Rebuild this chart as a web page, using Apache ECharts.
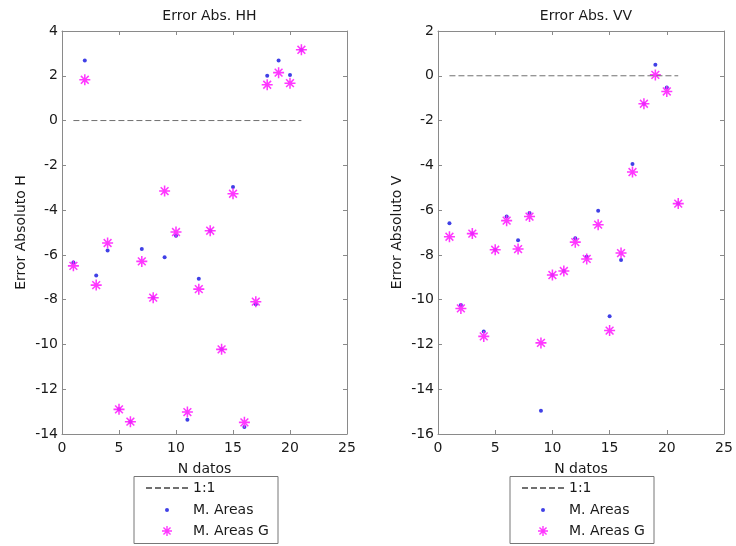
<!DOCTYPE html>
<html>
<head>
<meta charset="utf-8">
<script src="https://cdn.jsdelivr.net/npm/echarts@6/dist/echarts.min.js"></script>
<style>html,body{margin:0;padding:0;background:#fff;}#c{width:736px;height:546px;}</style>
</head>
<body>
<div id="c"></div>
<script>
// ---- data ----
const nDatos = [1,2,3,4,5,6,7,8,9,10,11,12,13,14,15,16,17,18,19,20,21];
const hhAreas  = [-6.34, 2.68, -6.92, -5.80, -12.90, -13.45, -5.74, -7.91, -6.10, -5.15, -13.36, -7.07, -4.92, -10.22, -2.97, -13.69, -8.21, 2.00, 2.68, 2.04, 3.16];
const hhAreasG = [-6.49, 1.82, -7.35, -5.47, -12.90, -13.45, -6.29, -7.91, -3.15, -4.98, -13.02, -7.53, -4.92, -10.22, -3.27, -13.48, -8.09, 1.60, 2.14, 1.67, 3.16];
const vvAreas  = [-6.59, -10.24, -7.05, -11.42, -7.77, -6.28, -7.35, -6.13, -14.96, -8.90, -8.72, -7.26, -8.08, -6.03, -10.74, -8.23, -3.94, -1.25, 0.49, -0.52, -5.71];
const vvAreasG = [-7.19, -10.39, -7.05, -11.64, -7.77, -6.47, -7.74, -6.29, -11.93, -8.90, -8.72, -7.43, -8.18, -6.65, -11.38, -7.92, -4.30, -1.25, 0.04, -0.70, -5.71];
const refLineX = [1, 21];
const refLineY = [0, 0];
const xRange = [0, 25];
const hhYRange = [-14, 4];
const vvYRange = [-16, 2];
const titles = ['Error Abs. HH', 'Error Abs. VV'];
const yNames = ['Error Absoluto H', 'Error Absoluto V'];
const xName = 'N datos';
const legendNames = ['1:1', 'M. Areas', 'M. Areas G'];

// ---- style helpers ----
function asteriskPath(L, w) {
  const pts = [];
  for (let k = 0; k < 8; k++) {
    const t = k * Math.PI / 4;
    const c = Math.cos(t), s = Math.sin(t);
    pts.push([L * c + w * s, L * s - w * c]);
    pts.push([L * c - w * s, L * s + w * c]);
    const r = w / Math.sin(Math.PI / 8);
    const ti = t + Math.PI / 8;
    pts.push([r * Math.cos(ti), r * Math.sin(ti)]);
  }
  return 'path://M' + pts.map(p => p[0].toFixed(3) + ' ' + p[1].toFixed(3)).join(' L') + ' Z';
}
const starSym = asteriskPath(10, 1.4);
const FONT = 'DejaVu Sans';
const axisGray = '#8a8a8a';
const txt = '#1a1a1a';

const grids = [
  { left: 62, top: 31, width: 285, height: 403 },
  { left: 438, top: 31, width: 286, height: 403 }
];
const yRanges = [hhYRange, vvYRange];
const blueData = [hhAreas, vvAreas];
const magData = [hhAreasG, vvAreasG];

const xAxes = [], yAxes = [], series = [], legends = [], titleArr = [], graphics = [];
grids.forEach((g, i) => {
  xAxes.push({
    type: 'value', gridIndex: i, position: 'bottom', min: xRange[0], max: xRange[1], interval: 5,
    name: xName, nameLocation: 'middle', nameGap: 28,
    nameTextStyle: { fontFamily: FONT, fontSize: 14, color: txt },
    axisLine: { show: true, onZero: false, lineStyle: { color: axisGray, width: 1 } },
    axisTick: { show: true, inside: true, length: 4, lineStyle: { color: axisGray } },
    axisLabel: { fontFamily: FONT, fontSize: 14, color: txt, margin: 7 },
    splitLine: { show: false }
  });
  xAxes.push({
    type: 'value', gridIndex: i, position: 'top', min: xRange[0], max: xRange[1], interval: 5,
    axisLine: { show: true, onZero: false, lineStyle: { color: axisGray, width: 1 } },
    axisTick: { show: true, inside: true, length: 4, lineStyle: { color: axisGray } },
    axisLabel: { show: false }, splitLine: { show: false }
  });
  yAxes.push({
    type: 'value', gridIndex: i, position: 'left', min: yRanges[i][0], max: yRanges[i][1], interval: 2,
    name: yNames[i], nameLocation: 'middle', nameGap: 34, nameRotate: 90,
    nameTextStyle: { fontFamily: FONT, fontSize: 14, color: txt },
    axisLine: { show: true, onZero: false, lineStyle: { color: axisGray, width: 1 } },
    axisTick: { show: true, inside: true, length: 4, lineStyle: { color: axisGray } },
    axisLabel: { fontFamily: FONT, fontSize: 14, color: txt, margin: 4 },
    splitLine: { show: false }
  });
  yAxes.push({
    type: 'value', gridIndex: i, position: 'right', min: yRanges[i][0], max: yRanges[i][1], interval: 2,
    axisLine: { show: true, onZero: false, lineStyle: { color: axisGray, width: 1 } },
    axisTick: { show: true, inside: true, length: 4, lineStyle: { color: axisGray } },
    axisLabel: { show: false }, splitLine: { show: false }
  });
  series.push({
    type: 'line', name: legendNames[0], xAxisIndex: 2 * i, yAxisIndex: 2 * i,
    data: refLineX.map((x, k) => [x, refLineY[k]]),
    symbol: 'none', silent: true, animation: false,
    lineStyle: { color: '#707070', width: 1, type: [6, 3] }, itemStyle: { color: '#707070' }
  });
  series.push({
    type: 'scatter', name: legendNames[1], xAxisIndex: 2 * i, yAxisIndex: 2 * i,
    data: nDatos.map((x, k) => [x, blueData[i][k]]),
    symbol: 'circle', symbolSize: 4, animation: false,
    itemStyle: { color: '#1010e0' }
  });
  series.push({
    type: 'scatter', name: legendNames[2], xAxisIndex: 2 * i, yAxisIndex: 2 * i,
    data: nDatos.map((x, k) => [x, magData[i][k]]),
    symbol: starSym, symbolSize: 11, symbolKeepAspect: true, animation: false,
    itemStyle: { color: '#ff22ff', opacity: 0.9 }
  });
  titleArr.push({
    text: titles[i], left: g.left + g.width / 2, top: 4, textAlign: 'center',
    textStyle: { fontFamily: FONT, fontSize: 14, fontWeight: 'normal', color: txt }
  });
  const off = i === 0 ? 0 : 376;
  graphics.push({
    type: 'rect', left: 133.5 + off, top: 476, z: 0,
    shape: { width: 144, height: 67 },
    style: { fill: '#fff', stroke: '#777', lineWidth: 1 }
  });
  const centers = [488, 510, 531];
  const heights = [12, 4, 10];
  const lefts = [145, 165, 162];
  legendNames.forEach((nm, k) => {
    const item = k === 0 ? { name: nm, itemStyle: { opacity: 0, color: 'rgba(0,0,0,0)' } } : { name: nm };
    legends.push({
      data: [item], orient: 'vertical', left: lefts[k] + off, top: centers[k] - 8, padding: 0,
      itemWidth: 42, itemHeight: heights[k], itemGap: 5, selectedMode: false,
      textStyle: { fontFamily: FONT, fontSize: 14, color: txt, height: 16, lineHeight: 16 }
    });
  });
});

const chart = echarts.init(document.getElementById('c'), null, { renderer: 'canvas' });
chart.setOption({
  animation: false,
  backgroundColor: '#fff',
  title: titleArr,
  grid: grids,
  xAxis: xAxes,
  yAxis: yAxes,
  legend: legends,
  series: series,
  graphic: graphics
});
</script>
</body>
</html>
